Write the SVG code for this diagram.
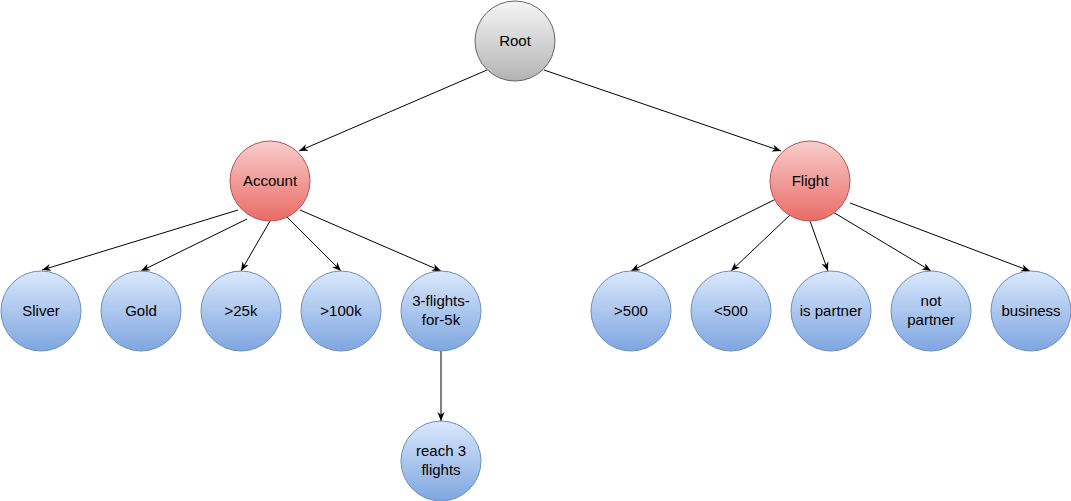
<svg xmlns="http://www.w3.org/2000/svg" width="1071" height="501" viewBox="0 0 1071 501">
<style>
.g circle{stroke-width:1}
.gray{fill:url(#gg);stroke:#666666}
.red{fill:url(#gr);stroke:#b85450}
.blue{fill:url(#gb);stroke:#6c8ebf}
text{font-family:"Liberation Sans",Arial,sans-serif;font-size:15px;fill:#000;text-anchor:middle}
#edges line{stroke:#000;stroke-width:1;marker-end:url(#a)}
</style>
<defs>
<linearGradient id="gg" x1="0" y1="0" x2="0" y2="1"><stop offset="0" stop-color="#f5f5f5"/><stop offset="1" stop-color="#b3b3b3"/></linearGradient>
<linearGradient id="gr" x1="0" y1="0" x2="0" y2="1"><stop offset="0" stop-color="#f8cecc"/><stop offset="1" stop-color="#ea6b66"/></linearGradient>
<linearGradient id="gb" x1="0" y1="0" x2="0" y2="1"><stop offset="0" stop-color="#dae8fc"/><stop offset="1" stop-color="#7ea6e0"/></linearGradient>
<marker id="a" viewBox="0 0 10 10" refX="10" refY="5" markerWidth="9" markerHeight="9" orient="auto" markerUnits="userSpaceOnUse"><path d="M0,1 L10,5 L0,9 L3,5 Z" fill="#000"/></marker>
</defs>
<g id="edges">
<line x1="487" y1="70" x2="299" y2="151"/>
<line x1="544" y1="70" x2="781" y2="151"/>
<line x1="238" y1="210" x2="42" y2="270"/>
<line x1="247" y1="219" x2="141" y2="271"/>
<line x1="270" y1="221" x2="241" y2="271"/>
<line x1="281" y1="211" x2="341" y2="271"/>
<line x1="300" y1="210" x2="441" y2="271"/>
<line x1="780" y1="197" x2="631" y2="271"/>
<line x1="790" y1="215" x2="731" y2="271"/>
<line x1="810" y1="221" x2="828" y2="271"/>
<line x1="833" y1="212" x2="931" y2="271"/>
<line x1="850" y1="203" x2="1030" y2="271"/>
<line x1="441" y1="351" x2="441" y2="421"/>
</g>
<g id="root" class="g"><circle class="gray" cx="515" cy="41" r="40"/><text x="515" y="46">Root</text></g>
<g id="account" class="g"><circle class="red" cx="270" cy="181" r="40"/><text x="270" y="186">Account</text></g>
<g id="flight" class="g"><circle class="red" cx="810" cy="181" r="40"/><text x="810" y="186">Flight</text></g>
<g id="sliver" class="g"><circle class="blue" cx="41" cy="311" r="40"/><text x="41" y="316">Sliver</text></g>
<g id="gold" class="g"><circle class="blue" cx="141" cy="311" r="40"/><text x="141" y="316">Gold</text></g>
<g id="gt25k" class="g"><circle class="blue" cx="241" cy="311" r="40"/><text x="241" y="316">&gt;25k</text></g>
<g id="gt100k" class="g"><circle class="blue" cx="341" cy="311" r="40"/><text x="341" y="316">&gt;100k</text></g>
<g id="flights5k" class="g"><circle class="blue" cx="441" cy="311" r="40"/><text x="441" y="306">3-flights-</text><text x="441" y="325">for-5k</text></g>
<g id="reach" class="g"><circle class="blue" cx="441" cy="461" r="40"/><text x="441" y="456">reach 3</text><text x="441" y="475">flights</text></g>
<g id="gt500" class="g"><circle class="blue" cx="631" cy="311" r="40"/><text x="631" y="316">&gt;500</text></g>
<g id="lt500" class="g"><circle class="blue" cx="731" cy="311" r="40"/><text x="731" y="316">&lt;500</text></g>
<g id="ispartner" class="g"><circle class="blue" cx="831" cy="311" r="40"/><text x="831" y="316">is partner</text></g>
<g id="notpartner" class="g"><circle class="blue" cx="931" cy="311" r="40"/><text x="931" y="306">not</text><text x="931" y="325">partner</text></g>
<g id="business" class="g"><circle class="blue" cx="1031" cy="311" r="40"/><text x="1031" y="316">business</text></g>
</svg>
